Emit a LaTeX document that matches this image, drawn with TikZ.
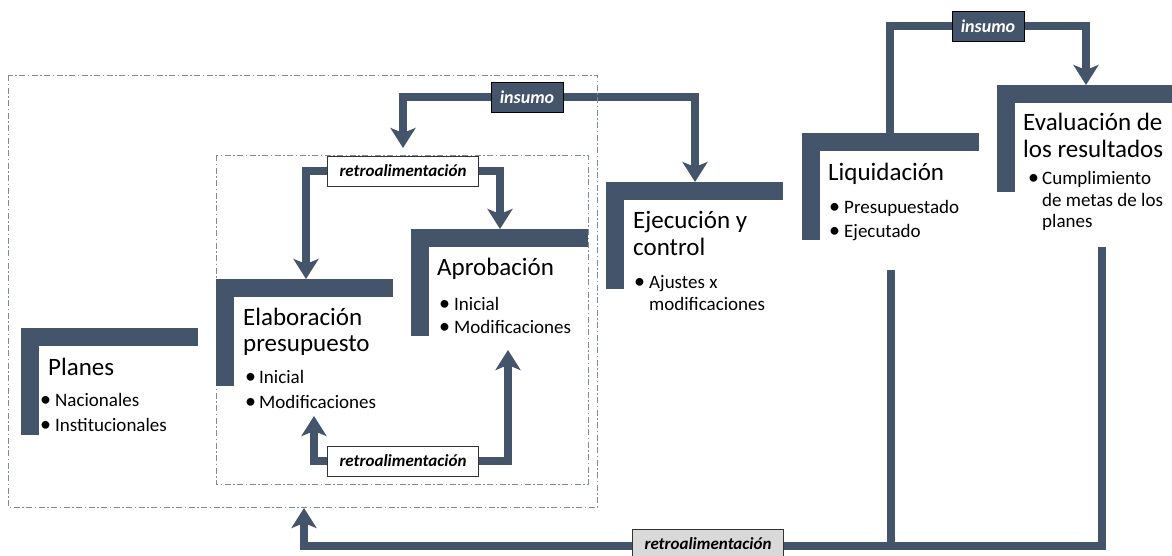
\documentclass[tikz,border=0pt]{standalone}
\usepackage{fontspec}
\setmainfont{Carlito}
\usetikzlibrary{arrows.meta,backgrounds}
\definecolor{slate}{HTML}{44546A}
\definecolor{dashc}{HTML}{7F8A9C}
\definecolor{boxgray}{HTML}{D9D9D9}
\begin{document}
\begin{tikzpicture}[x=1pt,y=-1pt,
  conn/.style={draw=slate, line width=8pt, line join=miter},
  arr/.style={conn, -{Stealth[length=20pt,width=25pt,inset=5pt]}},
  frame/.style={draw=dashc, line width=0.9pt, dash pattern=on 6pt off 2.5pt on 1.5pt off 2.5pt},
  ttl/.style={anchor=base west, inner sep=0pt, font=\fontsize{25}{26}\selectfont},
  itm/.style={anchor=base west, inner sep=0pt, font=\fontsize{19}{22}\selectfont},
  dot/.style={anchor=base west, inner sep=0pt, font=\fontsize{22}{22}\selectfont},
  retro/.style={draw=black!80, fill=white, line width=1pt, minimum width=151pt, minimum height=30pt, inner sep=0pt, font=\fontsize{17}{18}\selectfont\bfseries\itshape},
  retrog/.style={retro, fill=boxgray},
  insumo/.style={draw=black, fill=slate, text=white, line width=1pt, minimum width=72pt, minimum height=30pt, inner sep=0pt, font=\fontsize{18}{18}\selectfont\bfseries\itshape}
]
\useasboundingbox (0,0) rectangle (1172,555);
\clip (0,0) rectangle (1172,555);
\newcommand{\lbracket}[2]{\fill[slate] (#1,#2) rectangle ++(177,18); \fill[slate] (#1,#2) rectangle ++(18,107);}

% frames
\draw[frame] (8,75) rectangle (597,507);
\draw[frame] (216,155) rectangle (588,484);

% brackets
\lbracket{21}{328}
\lbracket{216}{279}
\lbracket{411}{229}
\lbracket{606}{182}
\lbracket{802}{133}
\lbracket{997}{85}

% Planes
\node[ttl] (plT) at (48,375) {Planes};
\node[dot] (plD1) at (40,406) {•};
\node[itm] (plB1) at (55,406) {Nacionales};
\node[dot] (plD2) at (40,431) {•};
\node[itm] (plB2) at (55,431) {Institucionales};

% Elaboracion
\node[ttl] (elT1) at (243,325) {Elaboración};
\node[ttl] (elT2) at (243,351) {presupuesto};
\node[dot] (elD1) at (245,383) {•};
\node[itm] (elB1) at (259,383) {Inicial};
\node[dot] (elD2) at (245,408) {•};
\node[itm] (elB2) at (259,408) {Modificaciones};

% Aprobacion
\node[ttl] (apT) at (437,275) {Aprobación};
\node[dot] (apD1) at (439,310) {•};
\node[itm] (apB1) at (454,310) {Inicial};
\node[dot] (apD2) at (439,333) {•};
\node[itm] (apB2) at (454,333) {Modificaciones};

% Ejecucion
\node[ttl] (ejT1) at (633,228) {Ejecución y};
\node[ttl] (ejT2) at (633,255) {control};
\node[dot] (ejD1) at (634,288) {•};
\node[itm] (ejB1) at (649,288) {Ajustes x};
\node[itm] (ejB1b) at (649,310) {modificaciones};

% Liquidacion
\node[ttl] (lqT) at (828,180) {Liquidación};
\node[dot] (lqD1) at (829,213) {•};
\node[itm] (lqB1) at (844,213) {Presupuestado};
\node[dot] (lqD2) at (829,237) {•};
\node[itm] (lqB2) at (844,237) {Ejecutado};

% Evaluacion
\node[ttl] (evT1) at (1023,130) {Evaluación de};
\node[ttl] (evT2) at (1023,157) {los resultados};
\node[dot] (evD1) at (1028,184) {•};
\node[itm] (evB1) at (1042,184) {Cumplimiento};
\node[itm] (evB1b) at (1042,206) {de metas de los};
\node[itm] (evB1c) at (1042,227) {planes};

% label boxes
\node[insumo] (insA) at (527,97) {insumo};
\node[retro] (retA) at (403,171) {retroalimentación};
\node[retro] (retB) at (403,461) {retroalimentación};
\node[insumo] (insB) at (988,26) {insumo};

% connector end points
\coordinate (inTip) at (403,148);
\coordinate (ejTip) at (695,182);
\coordinate (elTip) at (306,279);
\coordinate (apTip) at (500,229);
\coordinate (elBot) at (314,416);
\coordinate (apBot) at (508,350);
\coordinate (lqTop) at (890,133);
\coordinate (evTip) at (1086,85);
\coordinate (lqLine) at (891,270);
\coordinate (lqEnd) at (891,546);
\coordinate (evLine) at (1102,247);
\coordinate (evCorner) at (1102,546);
\coordinate (fbCorner) at (304,546);
\coordinate (fbTip) at (304,508);

\begin{pgfonlayer}{background}
\draw[arr] (insA.west) -| (inTip);
\draw[arr] (insA.east) -| (ejTip);
\draw[arr] (retA.west) -| (elTip);
\draw[arr] (retA.east) -| (apTip);
\draw[arr] (retB.west) -| (elBot);
\draw[arr] (retB.east) -| (apBot);
\draw[conn] (insB.west) -| (lqTop);
\draw[arr] (insB.east) -| (evTip);
\draw[conn, line width=7.5pt] (lqLine) -- (lqEnd);
\draw[arr, line width=7.5pt] (evLine) -- (evCorner) -- (fbCorner) -- (fbTip);
\end{pgfonlayer}

\node[retrog] (retC) at (708,544) {retroalimentación};
\end{tikzpicture}
\end{document}
